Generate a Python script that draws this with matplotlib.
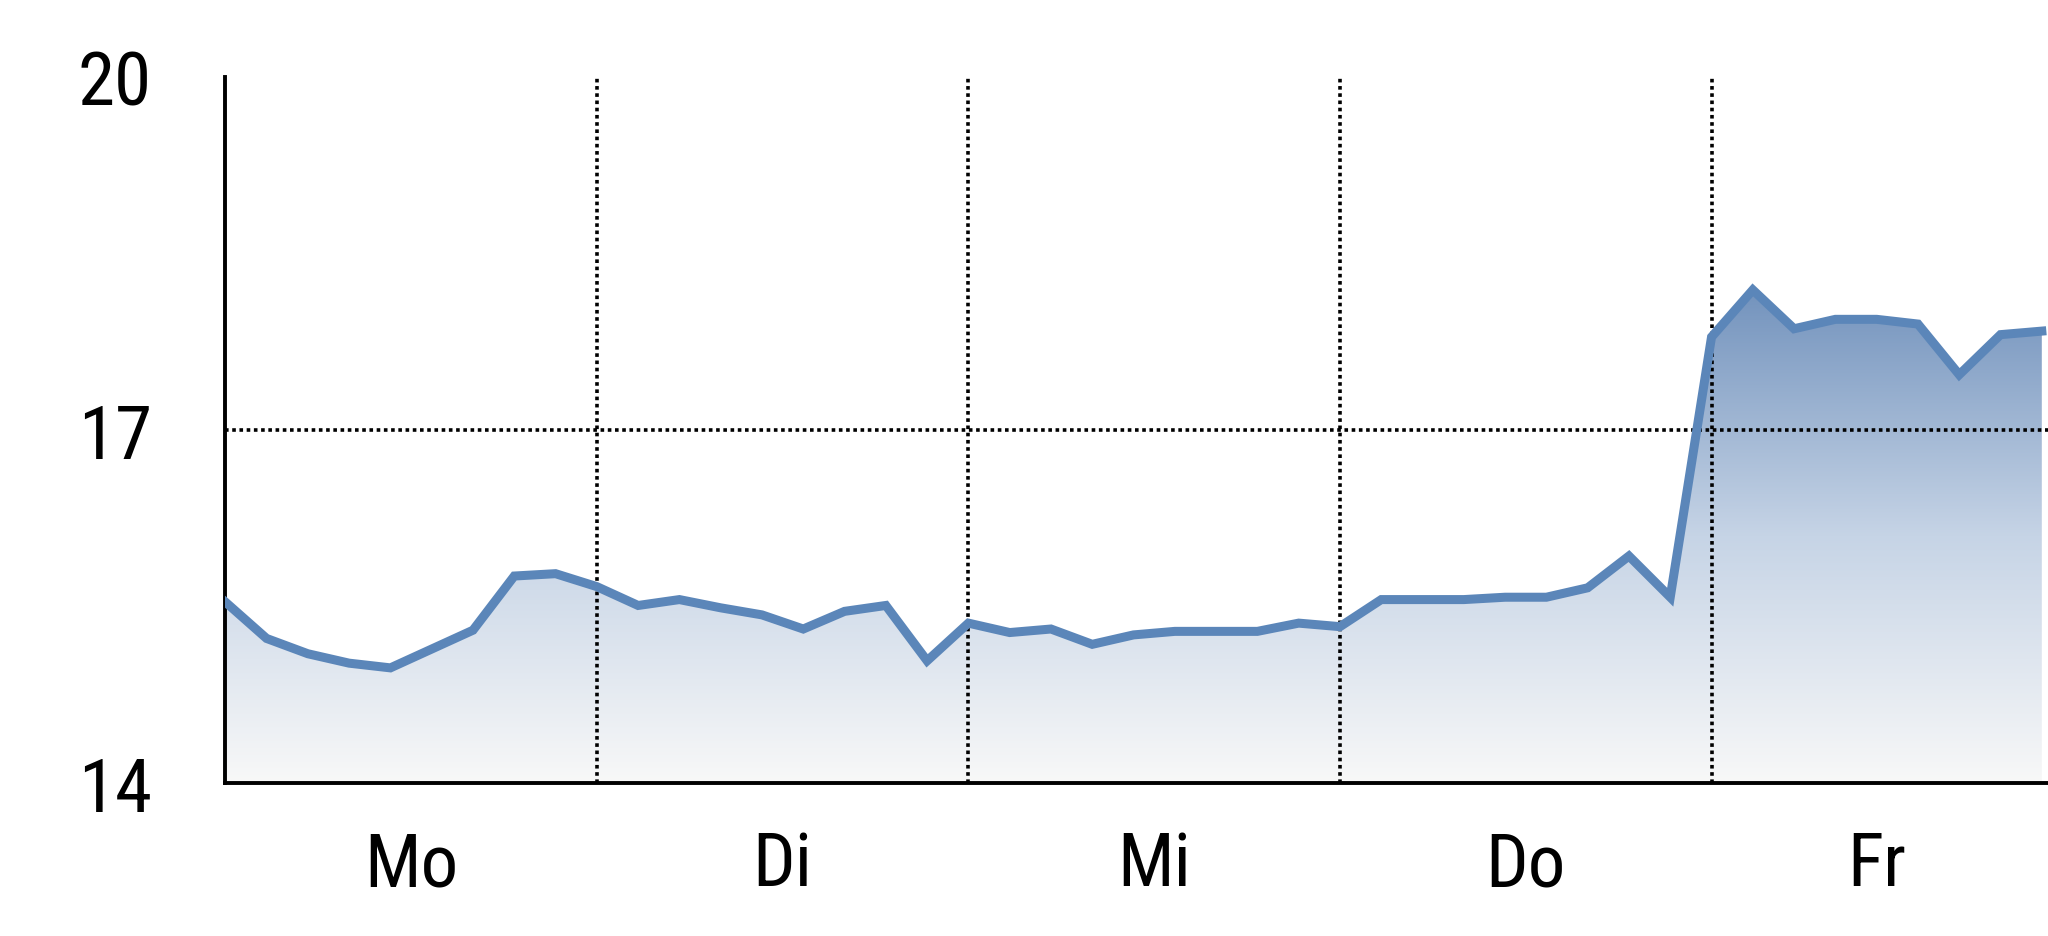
import matplotlib
matplotlib.use("Agg")
import matplotlib.pyplot as plt
import numpy as np
from matplotlib.colors import LinearSegmentedColormap

# Werte (ca. 9 Messpunkte pro Tag)
days = ["Mo", "Di", "Mi", "Do", "Fr"]
values = [
    15.54, 15.23, 15.10, 15.02, 14.98, 15.14, 15.30, 15.76, 15.78,   # Mo
    15.67, 15.51, 15.56, 15.49, 15.43, 15.31, 15.46, 15.51, 15.04,   # Di
    15.36, 15.28, 15.31, 15.18, 15.26, 15.29, 15.29, 15.29, 15.36,   # Mi
    15.33, 15.56, 15.56, 15.56, 15.58, 15.58, 15.66, 15.93, 15.58,   # Do
    17.79, 18.19, 17.86, 17.94, 17.94, 17.90, 17.47, 17.81, 17.84,   # Fr
]
y_ticks = [14, 17, 20]

steps_per_day = 9
x = np.arange(len(values))
day_bounds = [steps_per_day * i for i in range(1, len(days))]
day_centers = [steps_per_day * i + 4.5 for i in range(len(days) - 1)]
day_centers.append((steps_per_day * (len(days) - 1) + x[-1]) / 2)

line_color = "#5b86b9"
font = ["Roboto Condensed", "DejaVu Sans"]

fig = plt.figure(figsize=(20.48, 9.37), dpi=100)
ax = fig.add_axes([0.110, 0.163, 0.890, 0.754])

ax.set_xlim(0, x[-1] + 0.15)
ax.set_ylim(14, 20)

# Verlauf unter der Kurve
cmap = LinearSegmentedColormap.from_list("grad", ["#f8f8f8", "#c6d4e6", "#7393bd"])
top = max(values)
grad = np.linspace(0, 1, 256).reshape(-1, 1)
img = ax.imshow(grad, extent=[0, x[-1], 14, top], origin="lower", aspect="auto",
                cmap=cmap, zorder=1)
poly = ax.fill_between(x, values, 14, color="none", lw=0)
clip = poly.get_paths()[0]
img.set_clip_path(clip, transform=ax.transData)

ax.plot(x, values, color=line_color, lw=6.5, solid_joinstyle="miter", zorder=3)

# gepunktete Hilfslinien
for b in day_bounds:
    ax.axvline(b, color="black", ls=(0, (1, 1)), lw=2.6, zorder=2)
ax.axhline(17, color="black", ls=(0, (1, 1)), lw=2.6, zorder=2)

for s in ["top", "right"]:
    ax.spines[s].set_visible(False)
ax.spines["left"].set_linewidth(2.8)
ax.spines["bottom"].set_linewidth(2.8)

ax.set_yticks(y_ticks)
ax.set_yticklabels([str(t) for t in y_ticks], fontsize=54, family=font)
ax.set_xticks(day_centers)
ax.set_xticklabels(days, fontsize=54, family=font)
ax.tick_params(axis="y", length=0, pad=53)
ax.tick_params(axis="x", length=0, pad=33)

fig.savefig("out.png", dpi=100)
